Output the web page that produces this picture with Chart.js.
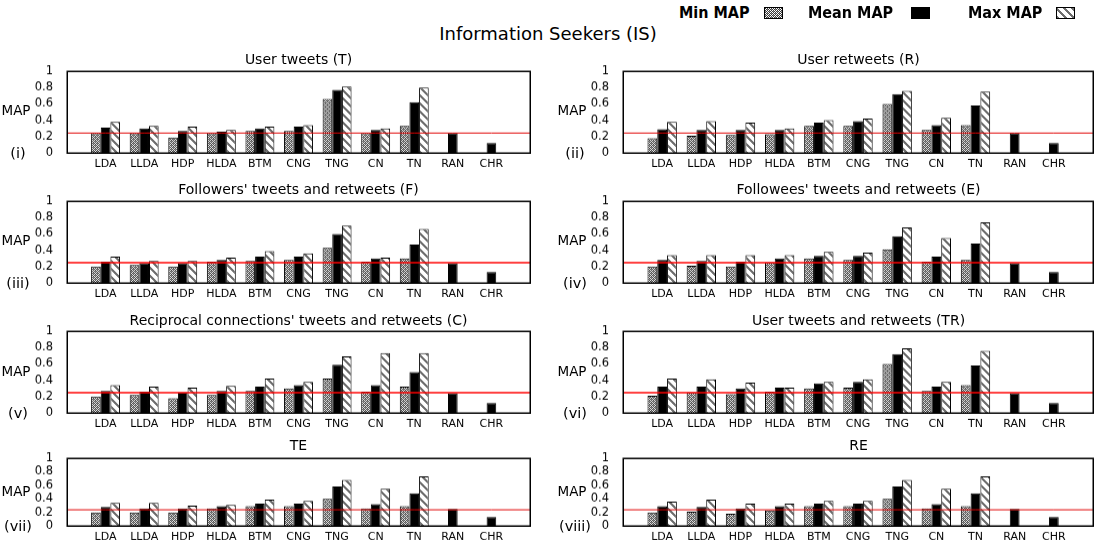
<!DOCTYPE html>
<html><head><meta charset="utf-8">
<script src="https://cdn.jsdelivr.net/npm/chart.js@4"></script>
<style>
body{margin:0;background:#fff;width:1097px;height:546px;position:relative;overflow:hidden;font-family:"DejaVu Sans",sans-serif;color:#000}
canvas{position:absolute}
.t{position:absolute;white-space:nowrap;transform:translate(-50%,-50%);line-height:1}
.lg{position:absolute;white-space:nowrap;font-weight:bold;font-size:16px;font-family:"DejaVu Sans Condensed","DejaVu Sans",sans-serif;line-height:1}
</style></head><body>
<script>
const categories = ['LDA','LLDA','HDP','HLDA','BTM','CNG','TNG','CN','TN','RAN','CHR'];
const yTicks = [0, 0.2, 0.4, 0.6, 0.8, 1];
const seriesNames = ['Min MAP', 'Mean MAP', 'Max MAP'];

// (i) User tweets (T)
const T_min  = [0.24,0.24,0.19,0.24,0.27,0.27,0.66,0.24,0.33,null,null];
const T_mean = [0.31,0.30,0.27,0.26,0.30,0.32,0.77,0.28,0.62,0.24,0.12];
const T_max  = [0.38,0.33,0.32,0.28,0.32,0.34,0.81,0.30,0.80,null,null];
// (ii) User retweets (R)
const R_min  = [0.18,0.21,0.22,0.23,0.33,0.33,0.60,0.28,0.34,null,null];
const R_mean = [0.29,0.28,0.28,0.28,0.37,0.39,0.72,0.34,0.58,0.24,0.12];
const R_max  = [0.38,0.39,0.37,0.30,0.40,0.42,0.76,0.43,0.75,null,null];
// (iii) Followers' tweets and retweets (F)
const F_min  = [0.20,0.22,0.20,0.26,0.27,0.28,0.43,0.26,0.30,null,null];
const F_mean = [0.26,0.24,0.24,0.28,0.32,0.32,0.60,0.30,0.47,0.24,0.135];
const F_max  = [0.32,0.27,0.27,0.31,0.39,0.36,0.70,0.31,0.66,null,null];
// (iv) Followees' tweets and retweets (E)
const E_min  = [0.20,0.21,0.20,0.25,0.30,0.28,0.41,0.26,0.28,null,null];
const E_mean = [0.28,0.27,0.26,0.30,0.33,0.33,0.57,0.32,0.48,0.24,0.135];
const E_max  = [0.34,0.34,0.34,0.34,0.38,0.37,0.68,0.55,0.74,null,null];
// (v) Reciprocal connections' tweets and retweets (C)
const C_min  = [0.20,0.22,0.18,0.22,0.27,0.30,0.42,0.26,0.32,null,null];
const C_mean = [0.27,0.26,0.25,0.27,0.32,0.34,0.59,0.34,0.50,0.24,0.12];
const C_max  = [0.34,0.32,0.31,0.33,0.42,0.38,0.69,0.73,0.73,null,null];
// (vi) User tweets and retweets (TR)
const TR_min  = [0.21,0.25,0.23,0.26,0.30,0.31,0.60,0.27,0.34,null,null];
const TR_mean = [0.32,0.32,0.30,0.31,0.36,0.38,0.72,0.32,0.58,0.24,0.12];
const TR_max  = [0.42,0.41,0.37,0.31,0.38,0.41,0.79,0.38,0.76,null,null];
// (vii) TE
const TE_min  = [0.20,0.20,0.20,0.26,0.29,0.29,0.40,0.26,0.29,null,null];
const TE_mean = [0.28,0.26,0.26,0.29,0.33,0.33,0.58,0.32,0.48,0.25,0.13];
const TE_max  = [0.34,0.34,0.30,0.31,0.39,0.37,0.68,0.55,0.73,null,null];
// (viii) RE
const RE_min  = [0.20,0.21,0.18,0.23,0.29,0.29,0.40,0.26,0.29,null,null];
const RE_mean = [0.29,0.28,0.26,0.29,0.33,0.33,0.58,0.32,0.48,0.25,0.13];
const RE_max  = [0.36,0.39,0.33,0.33,0.37,0.37,0.68,0.55,0.73,null,null];

// random-baseline reference line per panel
const baselines = [0.243, 0.243, 0.246, 0.246, 0.246, 0.246, 0.238, 0.238];

const panels = [
  {title:'User tweets (T)', num:'(i)', col:0, row:0, d:[T_min,T_mean,T_max]},
  {title:'User retweets (R)', num:'(ii)', col:1, row:0, d:[R_min,R_mean,R_max]},
  {title:"Followers' tweets and retweets (F)", num:'(iii)', col:0, row:1, d:[F_min,F_mean,F_max]},
  {title:"Followees' tweets and retweets (E)", num:'(iv)', col:1, row:1, d:[E_min,E_mean,E_max]},
  {title:"Reciprocal connections' tweets and retweets (C)", num:'(v)', col:0, row:2, d:[C_min,C_mean,C_max]},
  {title:'User tweets and retweets (TR)', num:'(vi)', col:1, row:2, d:[TR_min,TR_mean,TR_max]},
  {title:'TE', num:'(vii)', col:0, row:3, d:[TE_min,TE_mean,TE_max]},
  {title:'RE', num:'(viii)', col:1, row:3, d:[RE_min,RE_mean,RE_max]}
];

// layout (styles / positions)
const rows = [
  {top:71, bottom:153, title:59, map:111, num:153, lw:1, lc:'#e00000'},
  {top:201, bottom:283, title:189, map:241, num:283, lw:1.5, lc:'#ff0000'},
  {top:331, bottom:413, title:320, map:372, num:413, lw:1.5, lc:'#ff0000'},
  {top:458, bottom:526, title:445, map:492, num:526, lw:1, lc:'#e00000'}
];
const cols = [
  {left:0, width:550, areaL:67, areaR:530, mapX:16, numX:18},
  {left:550, width:547, areaL:623, areaR:1094, mapX:572, numX:575}
];
const PAD_TOP = 10, XAXIS_H = 20;

function patCanvas(kind){
  const c = document.createElement('canvas');
  const g = c.getContext('2d');
  if (kind === 'check') {
    c.width = 4; c.height = 4;
    g.fillStyle = '#fff'; g.fillRect(0,0,4,4);
    g.fillStyle = '#3a3a3a';
    for (let y=0;y<4;y++) for (let x=0;x<4;x++) if ((x+y)%2===0) g.fillRect(x,y,1,1);
    g.fillStyle = '#9a9a9a';
    g.fillRect(1,0,1,1); g.fillRect(3,2,1,1);
  } else {
    c.width = 8; c.height = 8;
    g.fillStyle = '#fff'; g.fillRect(0,0,8,8);
    g.fillStyle = '#6e6e6e';
    for (let x=0;x<8;x++) for (let k=0;k<3;k++) g.fillRect(x,(x+k)%8,1,1);
  }
  return c;
}
const scratch = document.createElement('canvas').getContext('2d');
const checkPat = scratch.createPattern(patCanvas('check'),'repeat');
const stripePat = scratch.createPattern(patCanvas('stripe'),'repeat');
const fills = [checkPat, '#000', stripePat];

function addText(txt, x, y, size, extra){
  const d = document.createElement('div');
  d.className = 't'; d.textContent = txt;
  d.style.left = x+'px'; d.style.top = y+'px'; d.style.fontSize = size+'px';
  if (extra) Object.assign(d.style, extra);
  document.body.appendChild(d);
}

const boxPlugin = {
  id:'box',
  afterDatasetsDraw(chart){
    const {ctx, chartArea:a} = chart;
    ctx.save();
    ctx.strokeStyle = '#000'; ctx.lineWidth = 1.5;
    ctx.strokeRect(Math.round(a.left)+0.25, Math.round(a.top)+0.25, Math.round(a.right-a.left), Math.round(a.bottom-a.top));
    ctx.restore();
  }
};

const labels = ['', ...categories, ''];
const pad = arr => [null, ...arr, null];

function build(cv, p, i, r, w, h, axisW, padR){
  cv.width = w; cv.height = h;
  cv.style.width = w+'px'; cv.style.height = h+'px';
  const ds = p.d.map((arr, k) => ({
    type:'bar', label: seriesNames[k], data: pad(arr),
    backgroundColor: fills[k], borderColor:'#000', borderWidth:1,
    categoryPercentage:0.75, barPercentage:1.0, order:1
  }));
  ds.push({
    type:'line', label:'baseline', data: labels.map(() => baselines[i]),
    borderColor: r.lc, borderWidth: r.lw, pointRadius:0, fill:false, order:0
  });
  return new Chart(cv, {
    type:'bar',
    data:{labels, datasets:ds},
    options:{
      responsive:false, animation:false, devicePixelRatio:1,
      layout:{padding:{top:PAD_TOP, right:padR, left:0, bottom:0}},
      plugins:{legend:{display:false}, tooltip:{enabled:false}, title:{display:false}},
      scales:{
        x:{
          offset:false,
          grid:{display:false, drawTicks:false}, border:{display:false},
          ticks:{autoSkip:false, maxRotation:0, minRotation:0, padding:4, color:'#000',
                 font:{family:'"DejaVu Sans", sans-serif', size:11}},
          afterFit(s){ s.height = XAXIS_H; }
        },
        y:{
          min:0, max:1,
          grid:{display:false, drawTicks:false}, border:{display:false},
          afterBuildTicks(s){ s.ticks = yTicks.map(v => ({value:v})); },
          ticks:{padding:14, color:'#000', font:{family:'"DejaVu Sans", sans-serif', size:11.5},
                 callback:v => String(Math.round(v*10)/10)},
          afterFit(s){ s.width = axisW; }
        }
      }
    },
    plugins:[boxPlugin]
  });
}

panels.forEach((p, i) => {
  const r = rows[p.row], c = cols[p.col];
  const cv = document.createElement('canvas');
  document.body.appendChild(cv);
  const wantH = r.bottom - r.top;
  const axisW = c.areaL - c.left;
  const padR = c.left + c.width - c.areaR;
  let h = PAD_TOP + wantH + XAXIS_H;
  let chart = build(cv, p, i, r, c.width, h, axisW, padR);
  let ca = chart.chartArea;
  const gotH = ca.bottom - ca.top;
  if (Math.abs(gotH - wantH) > 0.5) {
    chart.destroy();
    h = h + (wantH - gotH);
    chart = build(cv, p, i, r, c.width, h, axisW, padR);
    ca = chart.chartArea;
  }
  cv.style.left = (c.areaL - ca.left)+'px';
  cv.style.top = (r.top - ca.top)+'px';

  addText(p.title, (c.areaL + c.areaR)/2, r.title, 14);
  addText('MAP', c.mapX, r.map, 13.5);
  addText(p.num, c.numX, r.num, 14.5);
});

addText('Information Seekers (IS)', 548, 34, 18);

// legend
const legendItems = [
  {name:seriesNames[0], x:679, sx:764, k:0},
  {name:seriesNames[1], x:808, sx:911, k:1},
  {name:seriesNames[2], x:968, sx:1056, k:2}
];
legendItems.forEach(it => {
  const d = document.createElement('div');
  d.className = 'lg'; d.textContent = it.name;
  d.style.left = it.x+'px'; d.style.top = '5px';
  document.body.appendChild(d);
  const sc = document.createElement('canvas');
  sc.width = 19; sc.height = 12;
  sc.style.left = it.sx+'px'; sc.style.top = '7px';
  document.body.appendChild(sc);
  const g = sc.getContext('2d');
  g.fillStyle = it.k===1 ? '#000' : g.createPattern(patCanvas(it.k===0?'check':'stripe'),'repeat');
  g.fillRect(0,0,19,12);
  g.strokeStyle = '#000'; g.lineWidth = 1;
  g.strokeRect(0.5,0.5,18,11);
});
</script>
</body></html>
